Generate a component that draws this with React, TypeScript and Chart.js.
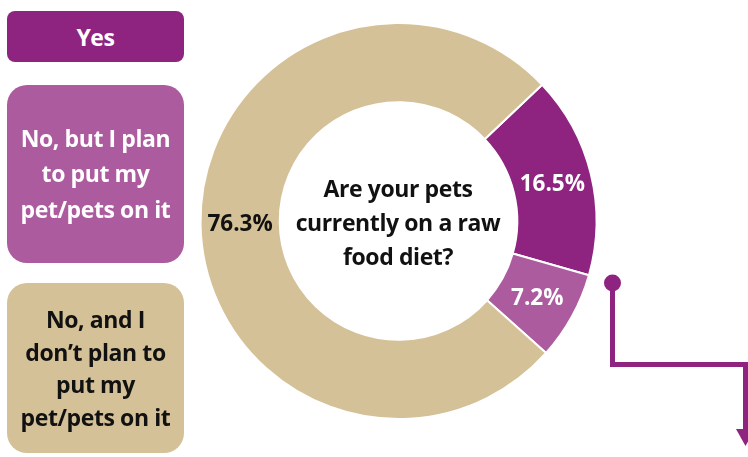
import React, { useEffect, useRef } from "react";
import { Chart, registerables } from "chart.js";

Chart.register(...registerables);

const categories = ["Yes", "No, but I plan to put my pet/pets on it", "No, and I don\u2019t plan to put my pet/pets on it"];
const values = [16.5, 7.2, 76.3];
const sliceColors = ["#8E2480", "#AC5C9E", "#D5C197"];
const labelColors = ["#FFFFFF", "#FFFFFF", "#111111"];
const legendLines = [["Yes"], ["No, but I plan", "to put my", "pet/pets on it"], ["No, and I", "don\u2019t plan to", "put my", "pet/pets on it"]];
const question = ["Are your pets", "currently on a raw", "food diet?"];

const FONT = "'Open Sans', Lato, sans-serif";

const labelPlugin = {
  id: "sliceLabels",
  afterDatasetsDraw(chart: any) {
    const ctx = chart.ctx;
    const meta = chart.getDatasetMeta(0);
    ctx.save();
    ctx.font = `bold 22.5px ${FONT}`;
    ctx.textAlign = "center";
    ctx.textBaseline = "middle";
    meta.data.forEach((arc: any, i: number) => {
      const p = arc.tooltipPosition();
      ctx.fillStyle = labelColors[i];
      ctx.fillText(values[i].toFixed(1) + "%", p.x, p.y + 1);
    });
    // connector with dot and arrow
    const col = sliceColors[0];
    ctx.strokeStyle = col;
    ctx.fillStyle = col;
    ctx.lineWidth = 5;
    ctx.beginPath();
    ctx.moveTo(612.5, 283);
    ctx.lineTo(612.5, 364.5);
    ctx.lineTo(745.5, 364.5);
    ctx.lineTo(745.5, 432);
    ctx.stroke();
    ctx.beginPath();
    ctx.arc(612.5, 283, 8.5, 0, Math.PI * 2);
    ctx.fill();
    ctx.beginPath();
    ctx.moveTo(736, 429);
    ctx.lineTo(755, 429);
    ctx.lineTo(745.5, 446);
    ctx.closePath();
    ctx.fill();
    ctx.restore();
  },
};

function LegendBox({ top, height, bg, color, radius, lines, lh }: any) {
  return (
    <div
      style={{
        position: "absolute",
        left: 7,
        top,
        width: 177,
        height,
        background: bg,
        borderRadius: radius,
        color,
        display: "flex",
        flexDirection: "column",
        justifyContent: "center",
        alignItems: "center",
        fontFamily: FONT,
        fontWeight: 700,
        fontSize: 23,
        letterSpacing: "-0.4px",
        lineHeight: `${lh}px`,
        textAlign: "center",
      }}
    >
      {lines.map((l: string, i: number) => (
        <div key={i} style={{ whiteSpace: "nowrap" }}>{l}</div>
      ))}
    </div>
  );
}

export default function App() {
  const ref = useRef<HTMLCanvasElement>(null);
  useEffect(() => {
    if (!ref.current) return;
    const chart = new Chart(ref.current, {
      type: "doughnut",
      data: {
        labels: categories,
        datasets: [
          {
            data: values,
            backgroundColor: sliceColors,
            borderColor: "#FFFFFF",
            borderWidth: 2,
          },
        ],
      },
      options: {
        responsive: false,
        animation: false,
        rotation: 46.5,
        cutout: "60%",
        layout: { padding: { left: 199.5, right: 150.5, top: 22, bottom: 37 } },
        plugins: { legend: { display: false }, tooltip: { enabled: false } },
      },
      plugins: [labelPlugin],
    });
    return () => chart.destroy();
  }, []);

  return (
    <div style={{ position: "fixed", left: 0, top: 0, width: 748, height: 457, background: "#fff", overflow: "hidden" }}>
      <canvas ref={ref} width={748} height={457} style={{ position: "absolute", left: 0, top: 0, width: 748, height: 457 }} />
      <LegendBox top={11} height={51} bg={sliceColors[0]} color="#fff" radius={8} lines={legendLines[0]} lh={34} />
      <LegendBox top={85} height={178} bg={sliceColors[1]} color="#fff" radius={20} lines={legendLines[1]} lh={35.5} />
      <LegendBox top={283} height={170} bg={sliceColors[2]} color="#111" radius={20} lines={legendLines[2]} lh={32.5} />
      <div
        style={{
          position: "absolute",
          left: 258,
          top: 171,
          width: 280,
          textAlign: "center",
          fontFamily: FONT,
          fontWeight: 700,
          fontSize: 23,
          letterSpacing: "-0.4px",
          lineHeight: "34px",
          color: "#111",
        }}
      >
        {question.map((l, i) => (
          <div key={i} style={{ whiteSpace: "nowrap" }}>{l}</div>
        ))}
      </div>
    </div>
  );
}
